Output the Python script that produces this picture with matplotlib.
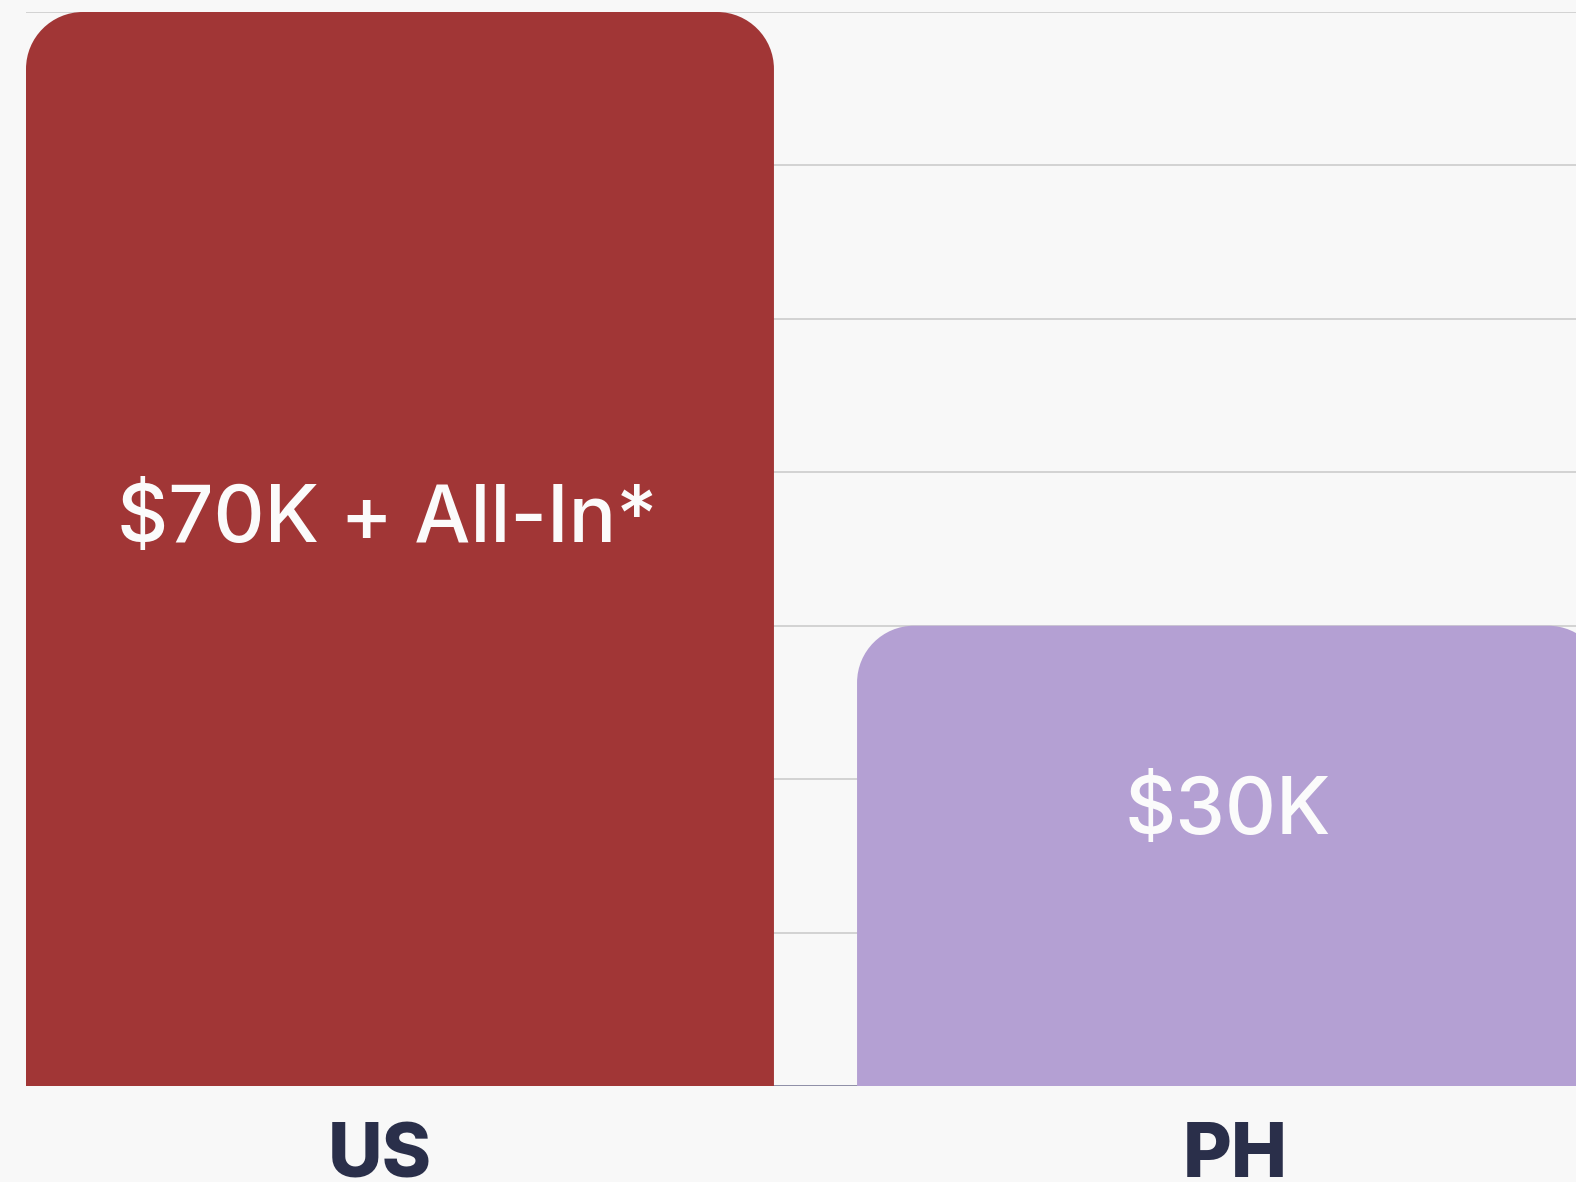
import matplotlib.pyplot as plt
from matplotlib.path import Path
from matplotlib.patches import PathPatch
import matplotlib.transforms as mtransforms

categories = ["US", "PH"]
values = [70, 30]
value_labels = ["$70K + All-In*", "$30K"]
bar_colors = ["#a13636", "#b4a0d3"]

BG = "#f8f8f8"
W, H, DPI = 1576, 1182, 100

fig = plt.figure(figsize=(W / DPI, H / DPI), dpi=DPI, facecolor=BG)
# axes extends past the right edge, the PH bar is cut off in the reference
ax = fig.add_axes([26 / W, 96 / H, 1579 / W, 1074 / H])
ax.set_facecolor(BG)

x = list(range(len(categories)))
bar_w = 0.9
ax.set_xlim(-0.45, 1.45)
ax.set_ylim(0, 70)

# pixel -> data scale for the rounded corners
px_x = 1.9 / 1579
px_y = 70 / 1074
r_px = 57
rx, ry = r_px * px_x, r_px * px_y
k = 0.5523


def rounded_top(x0, x1, top):
    verts = [
        (x0, 0), (x0, top - ry),
        (x0, top - ry + k * ry), (x0 + rx - k * rx, top), (x0 + rx, top),
        (x1 - rx, top),
        (x1 - rx + k * rx, top), (x1, top - ry + k * ry), (x1, top - ry),
        (x1, 0), (x0, 0),
    ]
    codes = [Path.MOVETO, Path.LINETO,
             Path.CURVE4, Path.CURVE4, Path.CURVE4,
             Path.LINETO,
             Path.CURVE4, Path.CURVE4, Path.CURVE4,
             Path.LINETO, Path.CLOSEPOLY]
    return Path(verts, codes)


for xi, v, c in zip(x, values, bar_colors):
    p = PathPatch(rounded_top(xi - bar_w / 2, xi + bar_w / 2, v),
                  facecolor=c, edgecolor="none", zorder=3)
    ax.add_patch(p)

# grid
for g in range(10, 71, 10):
    ax.axhline(g, color="#d0d0d0", lw=1.3, zorder=1)
ax.axhline(0, color="#7c7c98", lw=1.2, zorder=2)

# value labels inside bars (small nudges to match the original placement)
nudge_x = [-13, -3]
nudge_y = [28, 43]
for xi, v, lab, dx, dy in zip(x, values, value_labels, nudge_x, nudge_y):
    off = mtransforms.offset_copy(ax.transData, fig=fig, x=dx, y=dy, units="dots")
    ax.text(xi, v / 2, lab, transform=off, ha="center", va="center",
            color="#fbfbfb", fontsize=57, fontweight="medium",
            family=["Inter", "DejaVu Sans"], zorder=4)

ax.set_xticks(x)
ax.set_xticklabels(categories, fontsize=54, fontweight="heavy",
                   family=["Inter", "DejaVu Sans"], color="#2a2f4a")
ax.tick_params(axis="x", length=0, pad=26)
for lbl, dx in zip(ax.get_xticklabels(), [-20, 4]):
    lbl.set_transform(lbl.get_transform()
                      + mtransforms.ScaledTranslation(dx / DPI, 0, fig.dpi_scale_trans))
ax.set_yticks([])
for s in ax.spines.values():
    s.set_visible(False)

fig.savefig("out.png", dpi=DPI, facecolor=BG)
